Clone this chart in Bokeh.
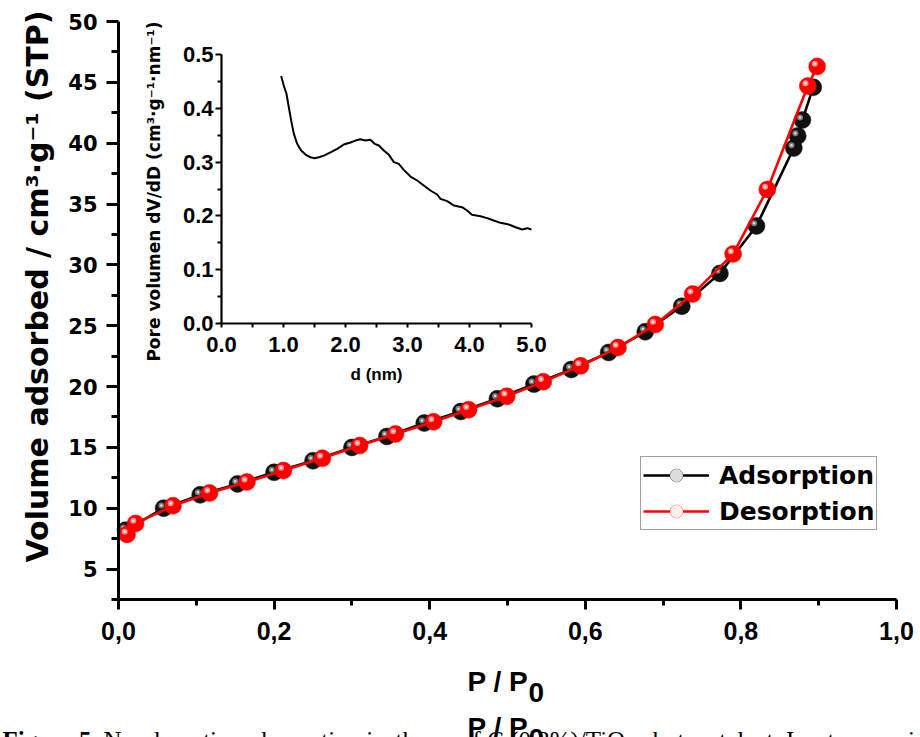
from bokeh.plotting import figure
from bokeh.models import Range1d, LinearAxis, FixedTicker, Label, Legend, LegendItem, ColumnDataSource
from bokeh.transform import dodge
from bokeh.embed import file_html
from bokeh.resources import INLINE

# ---------------- data ----------------
ads_x = [0.009, 0.058, 0.105, 0.153, 0.200, 0.250, 0.300, 0.345, 0.393, 0.440, 0.487,
         0.534, 0.582, 0.630, 0.677, 0.724, 0.773, 0.820, 0.868, 0.873, 0.879, 0.893]
ads_y = [8.2, 10.0, 11.1, 12.0, 12.95, 13.9, 15.0, 15.9, 17.0, 17.95, 19.0,
         20.2, 21.4, 22.8, 24.5, 26.6, 29.3, 33.2, 39.6, 40.6, 41.9, 44.6]

des_x = [0.011, 0.022, 0.070, 0.117, 0.165, 0.212, 0.262, 0.310, 0.356, 0.405, 0.450,
         0.499, 0.546, 0.594, 0.642, 0.690, 0.738, 0.790, 0.834, 0.886, 0.898]
des_y = [7.85, 8.75, 10.2, 11.25, 12.15, 13.1, 14.1, 15.15, 16.1, 17.1, 18.1,
         19.2, 20.4, 21.7, 23.2, 25.1, 27.6, 30.9, 36.2, 44.7, 46.3]

psd_d = [0.962, 1.005, 1.048, 1.086, 1.124, 1.167, 1.22, 1.285, 1.355, 1.435, 1.50,
         1.57, 1.65, 1.758, 1.866, 1.973, 2.08, 2.16, 2.24, 2.32, 2.40, 2.47, 2.538,
         2.618, 2.70, 2.78, 2.86, 2.94, 3.048, 3.156, 3.263, 3.37, 3.478, 3.532, 3.64,
         3.747, 3.88, 3.96, 4.04, 4.177, 4.285, 4.39, 4.50, 4.634, 4.742, 4.85, 4.93, 5.0]
psd_v = [0.460, 0.442, 0.427, 0.402, 0.377, 0.3525, 0.334, 0.3216, 0.314, 0.309, 0.3073,
         0.309, 0.312, 0.318, 0.3247, 0.3327, 0.3364, 0.340, 0.3426, 0.340, 0.3414, 0.334, 0.3309,
         0.3216, 0.3135, 0.300, 0.2968, 0.2856, 0.2732, 0.2658, 0.2565, 0.2472, 0.2398, 0.2317, 0.2274,
         0.2193, 0.2162, 0.210, 0.202, 0.1995, 0.1958, 0.1914, 0.1871, 0.184, 0.179, 0.1747, 0.1772, 0.1747]

main_x_ticks = [0.0, 0.2, 0.4, 0.6, 0.8, 1.0]
main_x_labels = ["0,0", "0,2", "0,4", "0,6", "0,8", "1,0"]
main_x_minor = [0.1, 0.3, 0.5, 0.7, 0.9]
main_y_ticks = [5, 10, 15, 20, 25, 30, 35, 40, 45, 50]
main_y_labels = ["5", "10", "15", "20", "25", "30", "35", "40", "45", "50"]
main_y_minor = [2.5, 7.5, 12.5, 17.5, 22.5, 27.5, 32.5, 37.5, 42.5, 47.5]

inset_x_ticks = [0, 1, 2, 3, 4, 5]
inset_x_labels = ["0.0", "1.0", "2.0", "3.0", "4.0", "5.0"]
inset_x_minor = [0.5, 1.5, 2.5, 3.5, 4.5]
inset_y_ticks = [0.0, 0.1, 0.2, 0.3, 0.4, 0.5]
inset_y_labels = ["0.0", "0.1", "0.2", "0.3", "0.4", "0.5"]
inset_y_minor = [0.05, 0.15, 0.25, 0.35, 0.45]

legend_labels = ["Adsorption", "Desorption"]
x_title = ["P / P", "0"]
y_title = "Volume adsorbed / cm³·g⁻¹ (STP)"
inset_x_title = "d (nm)"
inset_y_title = "Pore volumen dV/dD (cm³·g⁻¹·nm⁻¹)"
caption_bold = "Figure 5."
caption_rest = "N₂ adsorption–desorption isotherm of C (0.3%)/TiO₂ photocatalyst. Inset: pore size distribution."

# ---------------- layout (canvas pixels) ----------------
W, H = 920, 737
L, R, T, B = 118, 896, 21, 599          # main plot box
X0, X1, Y0, Y1 = 0.0, 1.0, 2.5, 50.0
IL, IR, IT, IB = 221, 531, 54, 323      # inset plot box
IX0, IX1, IY0, IY1 = 0.0, 5.0, 0.0, 0.5


def mx(px):
    return X0 + (px - L) / (R - L) * (X1 - X0)


def my(py):
    return Y0 + (B - py) / (B - T) * (Y1 - Y0)


def ix(px):
    return IX0 + (px - IL) / (IR - IL) * (IX1 - IX0)


def iy(py):
    return IY0 + (IB - py) / (IB - IT) * (IY1 - IY0)


# the frame covers the whole canvas; all axes are placed at fixed locations
p = figure(width=W, height=H, output_backend="svg", toolbar_location=None,
           x_range=Range1d(mx(0), mx(W)), y_range=Range1d(my(H), my(0)),
           x_axis_location=None, y_axis_location=None, min_border=0)
p.outline_line_color = None
p.grid.visible = False
p.background_fill_color = "white"
p.border_fill_color = "white"
p.extra_x_ranges = {"ix": Range1d(ix(0), ix(W))}
p.extra_y_ranges = {"iy": Range1d(iy(H), iy(0))}


def style_axis(a, lw, tw, font, size, tick_out, minor_out, standoff):
    a.axis_line_width = lw
    a.axis_line_color = "black"
    a.major_tick_line_width = tw
    a.minor_tick_line_width = tw
    a.major_tick_line_color = "black"
    a.minor_tick_line_color = "black"
    a.major_tick_in = 0
    a.minor_tick_in = 0
    a.major_tick_out = tick_out
    a.minor_tick_out = minor_out
    a.major_label_text_font = font
    a.major_label_text_font_style = "bold"
    a.major_label_text_font_size = size
    a.major_label_text_color = "black"
    a.major_label_standoff = standoff


# main axes
ya = LinearAxis(fixed_location=X0, bounds=(Y0, Y1),
                ticker=FixedTicker(ticks=main_y_ticks, minor_ticks=main_y_minor))
ya.major_label_overrides = dict(zip(main_y_ticks, main_y_labels))
style_axis(ya, 3, 3, "DejaVu Sans", "21px", 12, 7, 9)
xa = LinearAxis(fixed_location=Y0, bounds=(X0, X1),
                ticker=FixedTicker(ticks=main_x_ticks, minor_ticks=main_x_minor))
xa.major_label_overrides = dict(zip(main_x_ticks, main_x_labels))
style_axis(xa, 3, 3, "Liberation Sans", "25px", 10, 6, 12)
p.add_layout(ya, "left")
p.add_layout(xa, "below")

# inset axes
iya = LinearAxis(x_range_name="ix", y_range_name="iy", fixed_location=IX0, bounds=(IY0, IY1),
                 ticker=FixedTicker(ticks=inset_y_ticks, minor_ticks=inset_y_minor))
iya.major_label_overrides = dict(zip(inset_y_ticks, inset_y_labels))
style_axis(iya, 2.2, 2, "Liberation Sans", "22px", 6, 4, 2)
ixa = LinearAxis(x_range_name="ix", y_range_name="iy", fixed_location=IY0, bounds=(IX0, IX1),
                 ticker=FixedTicker(ticks=inset_x_ticks, minor_ticks=inset_x_minor))
ixa.major_label_overrides = dict(zip(inset_x_ticks, inset_x_labels))
style_axis(ixa, 2.2, 2, "Liberation Sans", "22px", 4, 4, 9)
p.add_layout(iya, "left")
p.add_layout(ixa, "below")

p.line(psd_d, psd_v, x_range_name="ix", y_range_name="iy", line_color="black", line_width=2)


# isotherm series (spheres: body + highlight)
def sphere_series(xs, ys, line_col, body, mid, core):
    src = ColumnDataSource(dict(x=xs, y=ys))
    hx = dodge("x", -0.003, range=p.x_range)
    hy = dodge("y", 0.22, range=p.y_range)
    return [p.line("x", "y", source=src, line_color=line_col, line_width=2.6),
            p.scatter("x", "y", source=src, size=17, fill_color=body, line_color=body, line_width=0.5),
            p.scatter(x=hx, y=hy, source=src, size=6, fill_color=mid, line_color=None),
            p.scatter(x=hx, y=hy, source=src, size=2.5, fill_color=core, line_color=None)]


ads_r = sphere_series(ads_x, ads_y, "black", "#111111", "#7a7a7a", "#dcdcdc")
des_r = sphere_series(des_x, des_y, "#ff0000", "#ff0000", "#ff8c8c", "#fff0f0")

legend = Legend(items=[LegendItem(label=legend_labels[0], renderers=ads_r),
                       LegendItem(label=legend_labels[1], renderers=des_r)],
                location=(640, H - 530))
legend.border_line_color = "#404040"
legend.border_line_width = 1.5
legend.background_fill_color = "white"
legend.background_fill_alpha = 1
legend.padding = 2
legend.spacing = 4
legend.margin = 0
legend.glyph_width = 66
legend.glyph_height = 32
legend.label_height = 32
legend.label_standoff = 10
legend.label_text_font = "DejaVu Sans"
legend.label_text_font_style = "bold"
legend.label_text_font_size = "25px"
legend.label_text_color = "black"
legend.label_text_baseline = "middle"
p.add_layout(legend)


# titles and caption (anchored at the centre of their text)
def lab(x, y, text, font, size, style="bold", angle=0, align="left",
        xr="default", yr="default"):
    p.add_layout(Label(x=x, y=y, text=text, text_font=font, text_font_size=size,
                       text_font_style=style, angle=angle, text_align=align,
                       text_baseline="middle", text_color="black",
                       x_range_name=xr, y_range_name=yr))


lab(mx(37), my(286), y_title, "DejaVu Sans", "30px", angle=1.5707963, align="center")
for dy in (0, 46):
    lab(mx(467), my(681 + dy), x_title[0], "Liberation Sans", "28px")
    lab(mx(528), my(692 + dy), x_title[1], "Liberation Sans", "28px")
lab(ix(153), iy(191), inset_y_title, "DejaVu Sans", "17px", angle=1.5707963, align="center",
    xr="ix", yr="iy")
lab(ix(376), iy(374), inset_x_title, "Liberation Sans", "17px", align="center", xr="ix", yr="iy")

lab(mx(2), my(740), caption_bold, "Liberation Serif", "25px")
lab(mx(103), my(740), caption_rest, "Liberation Serif", "25px", style="normal")

open("out.html", "w").write(file_html(p, INLINE))
